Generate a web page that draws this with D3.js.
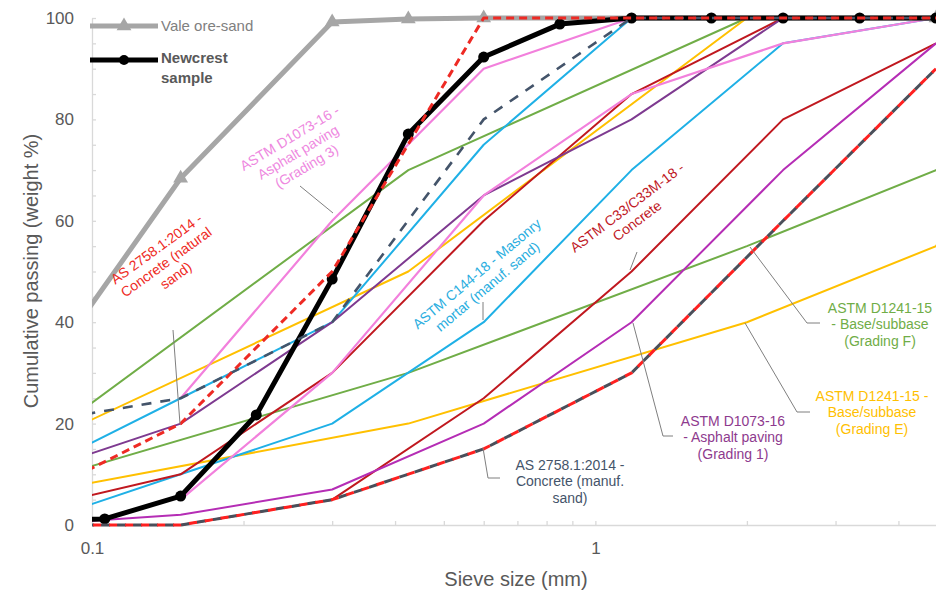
<!DOCTYPE html>
<html>
<head>
<meta charset="utf-8">
<script src="https://cdn.jsdelivr.net/npm/d3@7/dist/d3.min.js"></script>
<style>
  html, body { margin: 0; padding: 0; background: #fff; }
  svg { display: block; font-family: "Liberation Sans", Arial, sans-serif; }
</style>
</head>
<body>
<svg id="chart" width="936" height="593"></svg>
<script>
// Standard sieve sizes (mm)
const sieveStd = [0.075, 0.15, 0.3, 0.6, 1.18, 2.36, 4.75];
const sieveD1073g3 = [0.15, 0.3, 0.6, 1.18, 2.36, 4.75];
const sieveD1241 = [0.075, 0.425, 2.0, 4.75, 9.5];
const sieveVale = [0.075, 0.15, 0.3, 0.425, 0.6, 4.75];
const sieveNewcrest = [0.075, 0.106, 0.15, 0.212, 0.3, 0.425, 0.6, 0.85, 1.18, 1.7, 2.36, 3.35, 4.75];

// Cumulative passing (weight %)
const valePassing = [26, 68.4, 99.2, 99.8, 100, 100];
const newcrestPassing = [0.8, 1.2, 5.7, 21.7, 48.5, 77.1, 92.3, 98.8, 100, 100, 100, 100, 100];

const as2758NaturalLow = [0, 0, 5, 15, 30, 60, 90];
const as2758NaturalHigh = [5, 20, 50, 100, 100, 100, 100];
const as2758ManufLow = [0, 0, 5, 15, 30, 60, 90];
const as2758ManufHigh = [20, 25, 40, 80, 100, 100, 100];
const c144Low = [0, 10, 20, 40, 70, 95, 100];
const c144High = [10, 25, 40, 75, 100, 100, 100];
const c33Low = [0, 0, 5, 25, 50, 80, 95];
const c33High = [3, 10, 30, 60, 85, 100, 100];
const d1073g1Low = [0, 2, 7, 20, 40, 70, 95];
const d1073g1High = [10, 20, 40, 65, 80, 100, 100];
const d1073g3Low = [5, 30, 65, 85, 95, 100];
const d1073g3High = [25, 60, 90, 100, 100, 100];
const d1241FLow = [8, 30, 55, 70, 100];
const d1241FHigh = [15, 70, 100, 100, 100];
const d1241ELow = [6, 20, 40, 55, 100];
const d1241EHigh = [15, 50, 100, 100, 100];

// Axis ticks
const yTickLabels = [0, 20, 40, 60, 80, 100];
const yMinorTicks = d3.range(0, 101, 5);
const xTickLabels = [0.1, 1];
const xMinorTicks = [0.2, 0.3, 0.4, 0.5, 0.6, 0.7, 0.8, 0.9, 1, 2, 3, 4];

const svg = d3.select("#chart");
const plotLeft = 92, plotRight = 936, plotTop = 18, plotBottom = 525;

const x = d3.scaleLog().domain([0.1, 4.75]).range([plotLeft, plotRight]);
const y = d3.scaleLinear().domain([0, 100]).range([plotBottom, plotTop]);

const zip = (xs, ys) => xs.map((s, i) => [s, ys[i]]);
const line = d3.line().x(d => x(d[0])).y(d => y(d[1]));

svg.append("defs").append("clipPath").attr("id", "plotClip")
  .append("rect").attr("x", plotLeft).attr("y", 0).attr("width", plotRight - plotLeft).attr("height", 593);

// Axes
const axisColor = "#d9d9d9";
const gy = svg.append("g").attr("transform", `translate(${plotLeft},0)`)
  .call(d3.axisRight(y).tickValues(yMinorTicks).tickSize(4).tickSizeOuter(0).tickFormat(""));
gy.selectAll("path, line").attr("stroke", axisColor).attr("stroke-width", 1.3);
const gyl = svg.append("g").attr("transform", `translate(${plotLeft - 4},0)`)
  .call(d3.axisLeft(y).tickValues(yTickLabels).tickSize(0).tickPadding(14));
gyl.select(".domain").remove();
gyl.selectAll("text").attr("fill", "#595959").attr("font-size", 17)
  .attr("font-family", "Liberation Sans, Arial, sans-serif");

const gx = svg.append("g").attr("transform", `translate(0,${plotBottom})`)
  .call(d3.axisTop(x).tickValues(xMinorTicks).tickSize(4).tickSizeOuter(0).tickFormat(""));
gx.selectAll("path, line").attr("stroke", axisColor).attr("stroke-width", 1.3);
const gxl = svg.append("g").attr("transform", `translate(0,${plotBottom})`)
  .call(d3.axisBottom(x).tickValues(xTickLabels).tickSize(0).tickPadding(17).tickFormat(d3.format("")));
gxl.select(".domain").remove();
gxl.selectAll("text").attr("fill", "#595959").attr("font-size", 17)
  .attr("font-family", "Liberation Sans, Arial, sans-serif");

// Axis titles
svg.append("text").attr("x", 516).attr("y", 586).attr("text-anchor", "middle")
  .attr("fill", "#595959").attr("font-size", 20).text("Sieve size (mm)");
svg.append("text").attr("transform", "translate(38,271) rotate(-90)").attr("text-anchor", "middle")
  .attr("fill", "#595959").attr("font-size", 20).text("Cumulative passing (weight %)");

const plot = svg.append("g").attr("clip-path", "url(#plotClip)");

function drawLine(xs, ys, color, width, dash, offset) {
  const p = plot.append("path").datum(zip(xs, ys)).attr("d", line)
    .attr("fill", "none").attr("stroke", color).attr("stroke-width", width)
    .attr("stroke-linejoin", "round");
  if (dash) p.attr("stroke-dasharray", dash).attr("stroke-dashoffset", offset || 0);
  return p;
}

// Grading envelopes (solid)
const cGreen = "#70ad47", cYellow = "#ffc000", cCyan = "#1fb0e6", cDarkRed = "#c0181f",
      cPurple = "#7e3a90", cMagenta = "#b52db5", cPink = "#f280dc";

drawLine(sieveD1241, d1241FLow, cGreen, 2);
drawLine(sieveD1241, d1241FHigh, cGreen, 2);
drawLine(sieveD1241, d1241ELow, cYellow, 2);
drawLine(sieveD1241, d1241EHigh, cYellow, 2);
drawLine(sieveStd, c144Low, cCyan, 2);
drawLine(sieveStd, c144High, cCyan, 2);
drawLine(sieveStd, c33Low, cDarkRed, 2);
drawLine(sieveStd, c33High, cDarkRed, 2);
drawLine(sieveStd, d1073g1Low, cMagenta, 2);
drawLine(sieveStd, d1073g1High, cPurple, 2);
drawLine(sieveD1073g3, d1073g3Low, cPink, 2.2);
drawLine(sieveD1073g3, d1073g3High, cPink, 2.2);

// Samples
drawLine(sieveVale, valePassing, "#a6a6a6", 5);
const tri = d3.symbol().type(d3.symbolTriangle).size(95);
plot.selectAll(".vale-pt").data(zip(sieveVale, valePassing).filter(d => d[0] >= 0.1))
  .join("path").attr("d", tri)
  .attr("transform", d => `translate(${x(d[0])},${y(d[1])})`).attr("fill", "#a6a6a6");

drawLine(sieveNewcrest, newcrestPassing, "#000", 5);
plot.selectAll(".nc-pt").data(zip(sieveNewcrest, newcrestPassing).filter(d => d[0] >= 0.1))
  .join("circle").attr("cx", d => x(d[0])).attr("cy", d => y(d[1])).attr("r", 5.5).attr("fill", "#000");

// AS 2758.1 envelopes (dashed)
drawLine(sieveStd, as2758ManufHigh, "#44546a", 2.6, "10,9");
drawLine(sieveStd, as2758ManufLow, "#4a4f5a", 3, "9,7", 8);
drawLine(sieveStd, as2758NaturalLow, "#ff2020", 3, "8,8");
drawLine(sieveStd, as2758NaturalHigh, "#ee2a24", 3, "8,5");

// Legend
const legend = svg.append("g");
legend.append("line").attr("x1", 90).attr("x2", 158).attr("y1", 26).attr("y2", 26)
  .attr("stroke", "#a6a6a6").attr("stroke-width", 5);
legend.append("path").attr("d", tri).attr("transform", "translate(124,26)").attr("fill", "#a6a6a6");
legend.append("text").attr("x", 161).attr("y", 31).attr("font-size", 15).attr("fill", "#808080").text("Vale ore-sand");
legend.append("line").attr("x1", 90).attr("x2", 158).attr("y1", 60).attr("y2", 60)
  .attr("stroke", "#000").attr("stroke-width", 5);
legend.append("circle").attr("cx", 124).attr("cy", 60).attr("r", 5).attr("fill", "#000");
legend.append("text").attr("x", 161).attr("y", 63).attr("font-size", 15).attr("font-weight", "bold")
  .attr("fill", "#595959").text("Newcrest");
legend.append("text").attr("x", 161).attr("y", 83).attr("font-size", 15).attr("font-weight", "bold")
  .attr("fill", "#595959").text("sample");

// Leader lines
const leaders = [
  [[300, 186], [333, 213]],
  [[173, 330], [180, 424]],
  [[483, 302], [483, 320]],
  [[637, 252], [630, 270]],
  [[750, 247], [807, 323], [820, 323]],
  [[745, 323], [797, 412], [810, 412]],
  [[633, 323], [663, 436], [673, 436]],
  [[483, 448], [488, 478], [500, 478]]
];
svg.selectAll(".leader").data(leaders).join("path")
  .attr("d", d3.line()).attr("fill", "none").attr("stroke", "#7f7f7f").attr("stroke-width", 1);

// Annotation labels
function label(cx, cy, angle, lines, color) {
  const g = svg.append("g").attr("transform", `translate(${cx},${cy}) rotate(${angle})`);
  const n = lines.length;
  lines.forEach((t, i) => {
    g.append("text").attr("x", 0).attr("y", (i - (n - 1) / 2) * 16.5 + 5)
      .attr("text-anchor", "middle").attr("font-size", 14).attr("fill", color).text(t);
  });
}
label(298, 152, -31, ["ASTM D1073-16 -", "Asphalt paving", "(Grading 3)"], "#ee88e0");
label(166, 262, -36, ["AS 2758.1:2014 -", "Concrete (natural", "sand)"], "#ee2a24");
label(482, 280, -40, ["ASTM C144-18 - Masonry", "mortar (manuf. sand)"], "#2aaee0");
label(632, 214, -37, ["ASTM C33/C33M-18 -", "Concrete"], "#c0181f");
label(880, 324, 0, ["ASTM D1241-15", "- Base/subbase", "(Grading F)"], "#70ad47");
label(872, 412, 0, ["ASTM D1241-15 -", "Base/subbase", "(Grading E)"], "#ffc000");
label(733, 437, 0, ["ASTM D1073-16", "- Asphalt paving", "(Grading 1)"], "#8e3a8e");
label(570, 481, 0, ["AS 2758.1:2014 -", "Concrete (manuf.", "sand)"], "#44546a");
</script>
</body>
</html>
